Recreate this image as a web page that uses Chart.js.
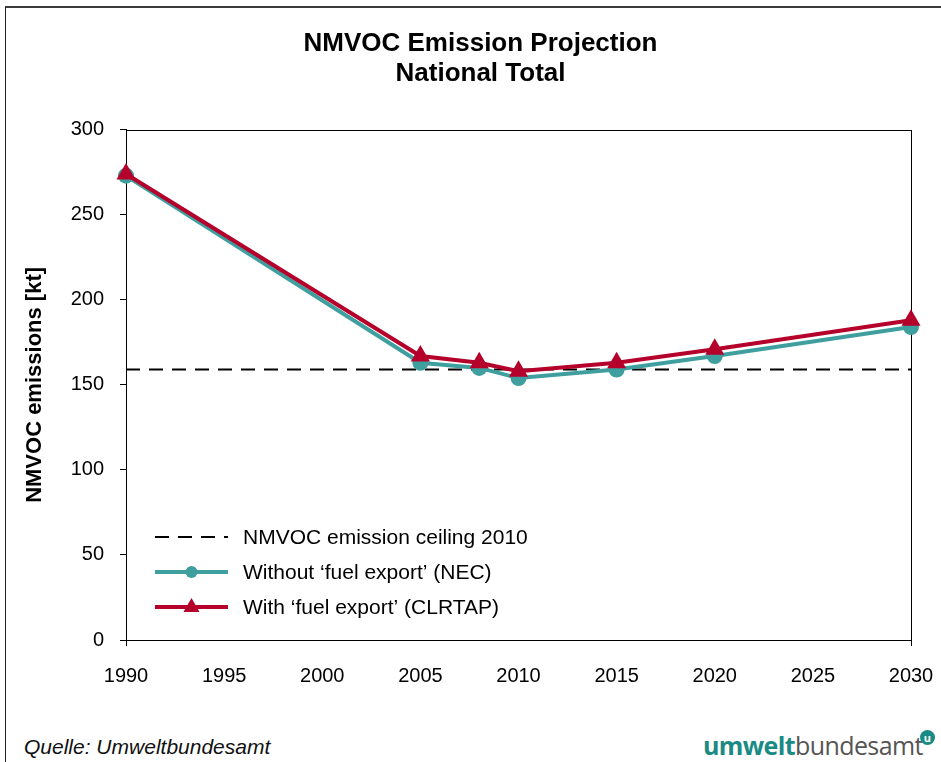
<!DOCTYPE html>
<html>
<head>
<meta charset="utf-8">
<script src="https://cdn.jsdelivr.net/npm/chart.js@4.4.1/dist/chart.umd.min.js"></script>
<style>
  body { margin: 0; background: #fff; font-family: "Liberation Sans", Arial, sans-serif; }
  #wrap { position: relative; width: 941px; height: 762px; overflow: hidden; }
  #frame { position: absolute; left: 5px; top: 6px; width: 940px; height: 800px;
           border-top: 2px solid #3c3c3c; border-left: 1px solid #222; }
  canvas { position: absolute; left: 0; top: 0; }
  #source { position: absolute; left: 24px; top: 735px; font-size: 21px; font-style: italic; color: #111; }
  #logo { position: absolute; left: 703px; top: 728px; font-family: "Open Sans", sans-serif; font-size: 25px; color: #555; letter-spacing: -0.6px; }
  #logo b { color: #1a8a84; font-weight: 700; }
  #logo i { position: absolute; right: -12px; top: 2px; width: 15px; height: 15px; border-radius: 50%;
            background: #1a8a84; color: #fff; font-style: normal; font-size: 11px; line-height: 15px; text-align: center; font-weight: 700; letter-spacing: 0; }
</style>
</head>
<body>
<div id="wrap">
  <div id="frame"></div>
  <canvas id="chart" width="941" height="705"></canvas>
  <div id="source">Quelle: Umweltbundesamt</div>
  <div id="logo"><b>umwelt</b>bundesamt<i>u</i></div>
</div>
<script>
// Werte (kt)
const years = [1990, 2005, 2008, 2010, 2015, 2020, 2030];
const withoutFuelExport = [273, 163, 160, 154, 159, 167, 184];
const withFuelExport = [274, 167, 163, 158, 163, 171, 188];
const ceilingYears = [1990, 2030];
const ceiling2010 = [159, 159];
const yTicks = [0, 50, 100, 150, 200, 250, 300];
const xTicks = [1990, 1995, 2000, 2005, 2010, 2015, 2020, 2025, 2030];

const TEAL = '#3f9f9f';
const RED = '#b4002a';

const labels = [
  'NMVOC emission ceiling 2010',
  'Without \u2018fuel export\u2019 (NEC)',
  'With \u2018fuel export\u2019 (CLRTAP)'
];

const toPoints = (xs, ys) => xs.map((x, i) => ({ x: x, y: ys[i] }));

// Rahmen um die Zeichenfläche
const boxPlugin = {
  id: 'box',
  beforeDatasetsDraw(chart) {
    const a = chart.chartArea;
    const ctx = chart.ctx;
    ctx.save();
    ctx.strokeStyle = '#000';
    ctx.lineWidth = 1;
    ctx.strokeRect(Math.round(a.left) + 0.5, Math.round(a.top) + 0.5,
      Math.round(a.right - a.left), Math.round(a.bottom - a.top));
    ctx.restore();
  }
};

// Legende innerhalb der Zeichenfläche, unten links
const legendPlugin = {
  id: 'innerLegend',
  afterDraw(chart) {
    const a = chart.chartArea;
    const ctx = chart.ctx;
    const x0 = a.left + 29, x1 = a.left + 102, tx = a.left + 117;
    const rows = [a.bottom - 103, a.bottom - 68, a.bottom - 33];
    ctx.save();
    ctx.font = '21px "Liberation Sans", Arial, sans-serif';
    ctx.fillStyle = '#000';
    ctx.textBaseline = 'middle';

    // gestrichelt
    ctx.strokeStyle = '#000';
    ctx.lineWidth = 2;
    ctx.setLineDash([14, 9]);
    ctx.beginPath(); ctx.moveTo(x0, rows[0]); ctx.lineTo(x1, rows[0]); ctx.stroke();
    ctx.setLineDash([]);

    const mid = (x0 + x1) / 2;
    // teal mit Kreis
    ctx.strokeStyle = TEAL; ctx.lineWidth = 4;
    ctx.beginPath(); ctx.moveTo(x0, rows[1]); ctx.lineTo(x1, rows[1]); ctx.stroke();
    ctx.fillStyle = TEAL;
    ctx.beginPath(); ctx.arc(mid, rows[1], 6, 0, Math.PI * 2); ctx.fill();

    // rot mit Dreieck
    ctx.strokeStyle = RED; ctx.lineWidth = 4;
    ctx.beginPath(); ctx.moveTo(x0, rows[2]); ctx.lineTo(x1, rows[2]); ctx.stroke();
    ctx.fillStyle = RED;
    ctx.beginPath();
    ctx.moveTo(mid, rows[2] - 9); ctx.lineTo(mid + 8, rows[2] + 5); ctx.lineTo(mid - 8, rows[2] + 5);
    ctx.closePath(); ctx.fill();

    ctx.fillStyle = '#000';
    labels.forEach((t, i) => ctx.fillText(t, tx, rows[i] + 1));
    ctx.restore();
  }
};

Chart.defaults.font.family = '"Liberation Sans", Arial, sans-serif';
Chart.defaults.color = '#000';

const ctx = document.getElementById('chart').getContext('2d');
new Chart(ctx, {
  type: 'line',
  data: {
    datasets: [
      {
        label: labels[2],
        data: toPoints(years, withFuelExport),
        borderColor: RED,
        backgroundColor: RED,
        borderWidth: 4,
        pointStyle: 'triangle',
        pointRadius: 11,
        pointBorderWidth: 0,
        clip: false,
        tension: 0
      },
      {
        label: labels[1],
        data: toPoints(years, withoutFuelExport),
        borderColor: TEAL,
        backgroundColor: TEAL,
        borderWidth: 4,
        pointStyle: 'circle',
        pointRadius: 8,
        pointBorderWidth: 0,
        clip: false,
        tension: 0
      },
      {
        label: labels[0],
        data: toPoints(ceilingYears, ceiling2010),
        borderColor: '#000',
        borderWidth: 2,
        borderDash: [14, 9],
        pointRadius: 0
      }
    ]
  },
  options: {
    responsive: false,
    animation: false,
    layout: { padding: { left: 20, right: 0, top: 10, bottom: 5 } },
    plugins: {
      legend: { display: false },
      tooltip: { enabled: false },
      title: {
        display: true,
        text: ['NMVOC Emission Projection', 'National Total'],
        font: { size: 26, weight: 'bold', lineHeight: 1.15 },
        color: '#000',
        padding: { top: 19, bottom: 41 }
      }
    },
    scales: {
      x: {
        type: 'linear',
        min: 1990,
        max: 2030,
        afterBuildTicks: (scale) => { scale.ticks = xTicks.map(v => ({ value: v })); },
        afterFit: (scale) => { scale.height = 60; scale.paddingRight = 30; },
        ticks: {
          font: { size: 20 },
          color: '#000',
          padding: 18,
          maxRotation: 0,
          callback: (v) => String(v)
        },
        grid: {
          drawOnChartArea: false,
          tickLength: 6,
          color: (c) => (c.index === 0 || c.index === xTicks.length - 1) ? '#000' : 'rgba(0,0,0,0)'
        },
        border: { color: '#000', width: 1 }
      },
      y: {
        min: 0,
        max: 300,
        afterBuildTicks: (scale) => { scale.ticks = yTicks.map(v => ({ value: v })); },
        afterFit: (scale) => { scale.width = 106; },
        ticks: {
          font: { size: 20 },
          color: '#000',
          padding: 16
        },
        grid: {
          drawOnChartArea: false,
          tickLength: 6,
          color: '#000'
        },
        border: { color: '#000', width: 1 },
        title: {
          display: true,
          text: 'NMVOC emissions [kt]',
          font: { size: 22, weight: 'bold' },
          color: '#000',
          padding: { top: 2, bottom: 0 }
        }
      }
    }
  },
  plugins: [boxPlugin, legendPlugin]
});
</script>
</body>
</html>
